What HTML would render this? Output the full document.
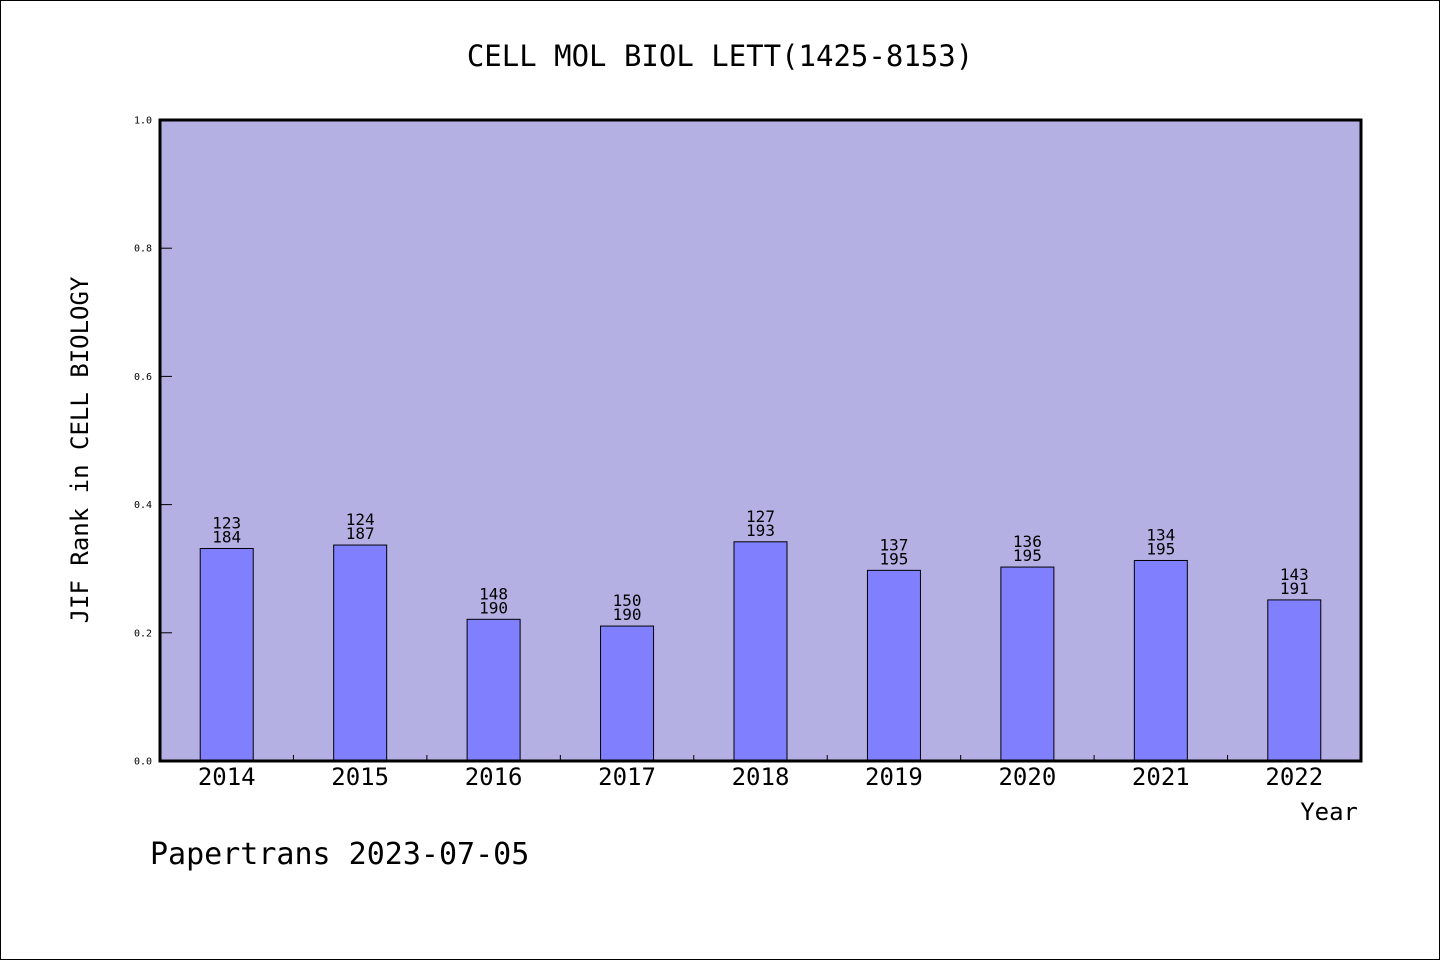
<!DOCTYPE html>
<html><head><meta charset="utf-8"><style>
html,body{margin:0;padding:0;background:#fff;}
svg{display:block;}
text{font-family:"DejaVu Sans Mono","Liberation Mono",monospace;fill:#000;}
</style></head><body>
<svg id="chart" width="1440" height="960" xmlns="http://www.w3.org/2000/svg">
<rect x="0.5" y="0.5" width="1439" height="959" fill="#fff" stroke="#000"/>
<text x="720" y="66" text-anchor="middle" font-size="29">CELL MOL BIOL LETT(1425-8153)</text>
<rect x="160" y="120" width="1201" height="641" fill="#b5b0e3"/>
<g id="ticks"></g>
<g id="bars"></g>
<rect x="160" y="120" width="1201" height="641" fill="none" stroke="#000" stroke-width="3"/>
<text transform="translate(88,450) rotate(-90)" text-anchor="middle" font-size="24">JIF Rank in CELL BIOLOGY</text>
<text x="1358" y="820" text-anchor="end" font-size="24">Year</text>
<text x="150" y="864" font-size="30">Papertrans 2023-07-05</text>
</svg>
<script>
const years = ["2014","2015","2016","2017","2018","2019","2020","2021","2022"];
const ranks = [123,124,148,150,127,137,136,134,143];
const totals = [184,187,190,190,193,195,195,195,191];
const yTicks = ["0.0","0.2","0.4","0.6","0.8","1.0"];
const NS="http://www.w3.org/2000/svg";
const X0=160,X1=1361,Y0=761,Y1=120;
const step=(X1-X0)/years.length;
const xc=i=>X0+step*(i+0.5);
const ys=v=>Y0-(Y0-Y1)*v;
function mk(t,a,p){const e=document.createElementNS(NS,t);for(const k in a)e.setAttribute(k,a[k]);if(p)p.appendChild(e);return e;}
const tg=document.getElementById('ticks'), bg=document.getElementById('bars');
yTicks.forEach(t=>{const y=ys(parseFloat(t));
 const l=mk('line',{x1:X0,x2:X0+12,y1:y,y2:y,stroke:'#000','stroke-width':1},tg);
 
 
 const tx=mk('text',{x:152,y:y+3.5,'text-anchor':'end','font-size':10,'font-family':'Liberation Sans, sans-serif'},tg);
 tx.textContent=t;
 
 
});
for(let i=1;i<years.length;i++){const x=X0+step*i;
 const l=mk('line',{x1:x,x2:x,y1:Y0,y2:Y0-6,stroke:'#000','stroke-width':1},tg);
 
 
}
years.forEach((yr,i)=>{
 const v=1-ranks[i]/totals[i];
 const top=ys(v),w=53;
 const r=mk('rect',{x:xc(i)-w/2,y:top,width:w,height:Y0-top,fill:'#8080ff',stroke:'#000','stroke-width':1},bg);
 
 
 const t1=mk('text',{x:xc(i),y:top-20,'text-anchor':'middle','font-size':16,'font-family':'Liberation Sans, sans-serif'},bg);
 t1.textContent=ranks[i];
 
 
 const t2=mk('text',{x:xc(i),y:top-6,'text-anchor':'middle','font-size':16,'font-family':'Liberation Sans, sans-serif'},bg);
 t2.textContent=totals[i];
 
 
 const xl=mk('text',{x:xc(i),y:785,'text-anchor':'middle','font-size':24,'font-family':'Liberation Sans, sans-serif'},bg);
 xl.textContent=yr;
 
 
});
</script>
</body></html>
